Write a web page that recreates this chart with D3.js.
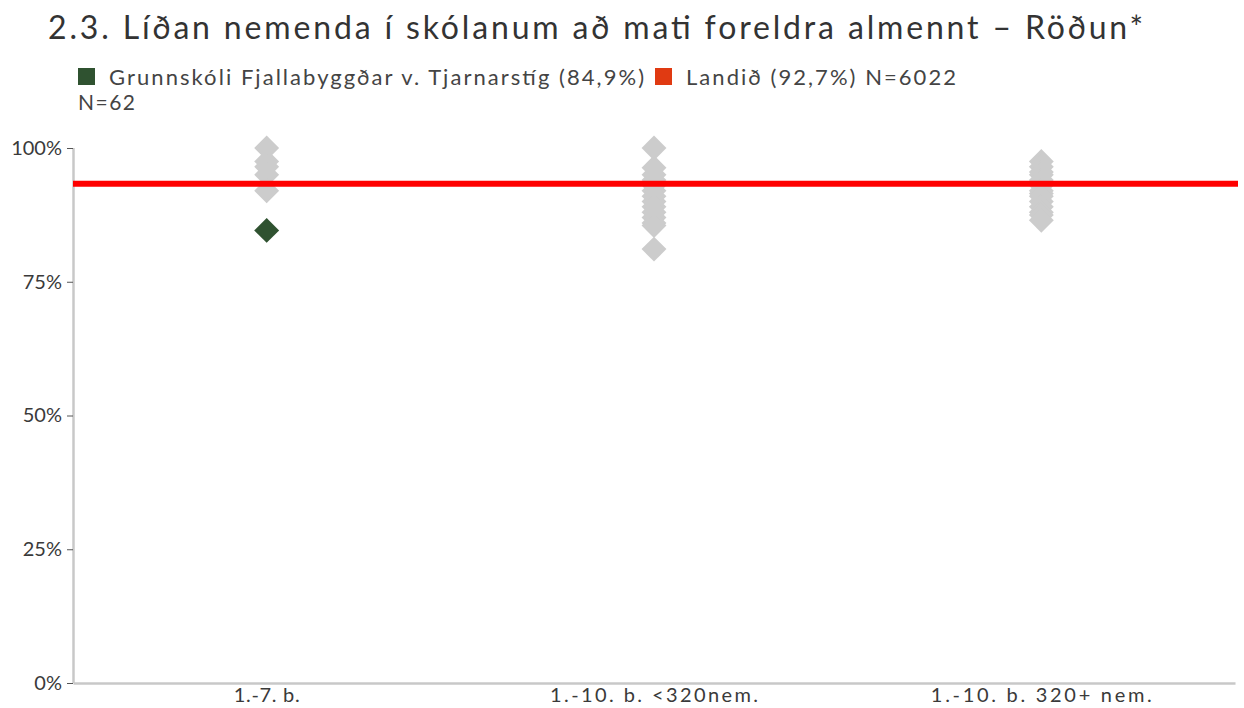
<!DOCTYPE html>
<html>
<head>
<meta charset="utf-8">
<script src="https://cdn.jsdelivr.net/npm/d3@7"></script>
<style>
  body { margin: 0; background: #fff; font-family: Lato, "Open Sans", sans-serif; }
  .tick text { fill: #3a3a3a; }
</style>
</head>
<body>
<div id="chart"></div>
<script>
// chart values
var title = "2.3. Líðan nemenda í skólanum að mati foreldra almennt – Röðun*";
var categories = ["1.-7. b.", "1.-10. b. <320nem.", "1.-10. b. 320+ nem."];
var otherSchools = [
  [100, 97.5, 96.5, 95, 92],
  [100, 96.3, 95, 94, 93, 92, 91, 90, 89, 88, 87, 86, 85.5, 81.1],
  [97.5, 96.5, 95.5, 95, 94, 93.5, 93, 92, 91.5, 91, 90, 89, 88, 87.5, 86.5]
];
var schoolCategory = "1.-7. b.";
var schoolValue = 84.6;
var countryValue = 93.3;
var yTicks = [0, 25, 50, 75, 100];
var legendLabels = ["Grunnskóli Fjallabyggðar v. Tjarnarstíg (84,9%)", "Landið (92,7%) N=6022"];
var subLabel = "N=62";

// size of page and plot area
var w = 1244;
var h = 708;
var margin = { left: 73, right: 1235, top: 148, bottom: 683 };

var svg = d3.select("#chart")
            .append("svg")
            .attr("width", w)
            .attr("height", h);

// title
svg.append("text")
   .attr("x", 48)
   .attr("y", 39)
   .attr("font-size", 32)
   .attr("fill", "#333")
   .attr("textLength", 1095)
   .attr("lengthAdjust", "spacing")
   .text(title);

// legend
var legendColors = ["#2f5230", "#e03a12"];
var legendX = [78, 655];
var legendW = [535, 270];
legendLabels.forEach(function(lab, i) {
  svg.append("rect")
     .attr("x", legendX[i]).attr("y", 68)
     .attr("width", 17).attr("height", 17)
     .attr("fill", legendColors[i]);
  svg.append("text")
     .attr("x", legendX[i] + 31)
     .attr("y", 85)
     .attr("font-size", 22)
     .attr("fill", "#444")
     .attr("textLength", legendW[i])
     .attr("lengthAdjust", "spacing")
     .text(lab);
});
svg.append("text")
   .attr("x", 78).attr("y", 110)
   .attr("font-size", 21).attr("fill", "#444")
   .attr("textLength", 57)
   .attr("lengthAdjust", "spacing")
   .text(subLabel);

// scales
var x = d3.scaleBand().domain(categories).range([margin.left, margin.right]);
var y = d3.scaleLinear().domain([0, 100]).range([margin.bottom, margin.top]);

// axes
var yAxis = d3.axisLeft(y)
              .tickValues(yTicks)
              .tickSize(6)
              .tickFormat(function(d) { return d + "%"; });
var gy = svg.append("g")
            .attr("transform", "translate(" + margin.left + ",0)")
            .call(yAxis);
gy.select(".domain").attr("stroke", "#c8c8c8").attr("stroke-width", 2.5).attr("d", "M0.5," + margin.top + "V" + margin.bottom);
gy.selectAll(".tick line").attr("stroke", "#555");
gy.selectAll(".tick text").attr("font-size", 20).attr("font-family", "Lato").attr("x", -11);

var xAxis = d3.axisBottom(x).tickSize(0).tickPadding(5);
var gx = svg.append("g")
            .attr("transform", "translate(0," + margin.bottom + ")")
            .call(xAxis);
gx.select(".domain").attr("stroke", "#c8c8c8").attr("stroke-width", 2.5);
var xLabelW = [66, 208, 221];
gx.selectAll(".tick text")
  .attr("font-size", 20)
  .attr("font-family", "Lato")
  .attr("textLength", function(d, i) { return xLabelW[i]; })
  .attr("lengthAdjust", "spacing");

// diamonds
var diamond = d3.symbol().type(d3.symbolSquare).size(310);
var points = [];
otherSchools.forEach(function(vals, i) {
  vals.forEach(function(v) { points.push({ cat: categories[i], v: v }); });
});
svg.selectAll(".other")
   .data(points)
   .enter()
   .append("path")
   .attr("class", "other")
   .attr("d", diamond)
   .attr("fill", "#cccccc")
   .attr("transform", function(d) {
     return "translate(" + (x(d.cat) + x.bandwidth() / 2) + "," + y(d.v) + ") rotate(45)";
   });

svg.append("path")
   .attr("d", diamond)
   .attr("fill", "#2f5230")
   .attr("transform", "translate(" + (x(schoolCategory) + x.bandwidth() / 2) + "," + y(schoolValue) + ") rotate(45)");

// national line
svg.append("line")
   .attr("x1", margin.left).attr("x2", 1238)
   .attr("y1", y(countryValue)).attr("y2", y(countryValue))
   .attr("stroke", "#ff0000")
   .attr("stroke-width", 6);
</script>
</body>
</html>
